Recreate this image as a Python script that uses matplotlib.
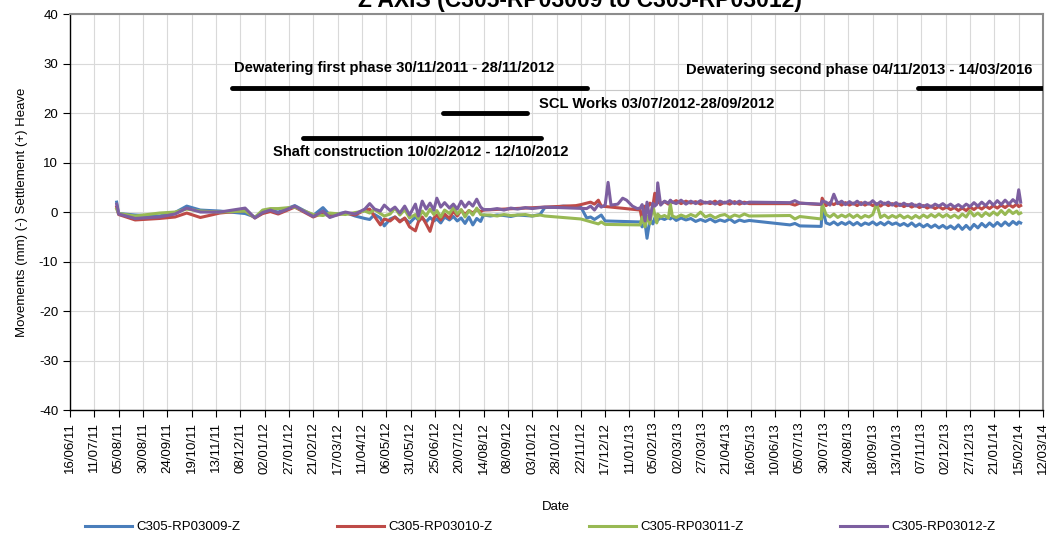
import numpy as np
import pandas as pd
import matplotlib
matplotlib.use('Agg')
import matplotlib.pyplot as plt
import matplotlib.dates as mdates

nan = np.nan

# survey dates (shared by the four prisms, nan = no reading)
survey_dates = [
    "2011-08-03", "2011-08-05", "2011-08-22", "2011-09-16", "2011-10-02", "2011-10-14",
    "2011-10-28", "2011-11-17", "2011-12-13", "2011-12-23", "2011-12-31", "2012-01-08",
    "2012-01-16", "2012-02-02", "2012-02-21", "2012-03-02", "2012-03-09", "2012-03-25",
    "2012-04-04", "2012-04-14", "2012-04-19", "2012-04-24", "2012-04-30", "2012-05-04",
    "2012-05-10", "2012-05-15", "2012-05-20", "2012-05-25", "2012-05-30", "2012-06-05",
    "2012-06-08", "2012-06-12", "2012-06-16", "2012-06-20", "2012-06-24", "2012-06-27",
    "2012-07-01", "2012-07-05", "2012-07-10", "2012-07-14", "2012-07-18", "2012-07-22",
    "2012-07-26", "2012-07-30", "2012-08-03", "2012-08-07", "2012-08-11", "2012-08-14",
    "2012-08-21", "2012-08-28", "2012-09-04", "2012-09-11", "2012-09-18", "2012-09-26",
    "2012-10-03", "2012-10-11", "2012-10-16", "2012-10-26", "2012-11-04", "2012-11-12",
    "2012-11-17", "2012-11-22", "2012-11-28", "2012-12-02", "2012-12-06", "2012-12-10",
    "2012-12-13", "2012-12-17", "2012-12-20", "2012-12-23", "2012-12-30", "2013-01-04",
    "2013-01-08", "2013-01-14", "2013-01-19", "2013-01-22", "2013-01-24", "2013-01-27",
    "2013-01-29", "2013-02-01", "2013-02-04", "2013-02-06", "2013-02-08", "2013-02-09",
    "2013-02-12", "2013-02-16", "2013-02-20", "2013-02-22", "2013-02-24", "2013-02-28",
    "2013-03-05", "2013-03-10", "2013-03-15", "2013-03-20", "2013-03-25", "2013-03-30",
    "2013-04-04", "2013-04-09", "2013-04-14", "2013-04-19", "2013-04-24", "2013-04-29",
    "2013-05-04", "2013-05-09", "2013-05-14", "2013-06-25", "2013-06-30", "2013-07-05",
    "2013-07-27", "2013-07-28", "2013-08-01", "2013-08-05", "2013-08-09", "2013-08-13",
    "2013-08-17", "2013-08-21", "2013-08-25", "2013-08-29", "2013-09-02", "2013-09-06",
    "2013-09-10", "2013-09-14", "2013-09-18", "2013-09-22", "2013-09-26", "2013-09-30",
    "2013-10-04", "2013-10-08", "2013-10-12", "2013-10-16", "2013-10-20", "2013-10-24",
    "2013-10-28", "2013-11-01", "2013-11-05", "2013-11-09", "2013-11-13", "2013-11-17",
    "2013-11-21", "2013-11-25", "2013-11-29", "2013-12-03", "2013-12-07", "2013-12-11",
    "2013-12-15", "2013-12-19", "2013-12-23", "2013-12-27", "2013-12-31", "2014-01-04",
    "2014-01-08", "2014-01-12", "2014-01-16", "2014-01-20", "2014-01-24", "2014-01-28",
    "2014-02-01", "2014-02-05", "2014-02-09", "2014-02-13", "2014-02-15", "2014-02-17",
]

rp03009 = [
    2.0, -0.3, -0.6, -0.8, -0.1, 1.2, 0.4, 0.2, -0.3, -1.0, -0.2, 0.3,
    0.0, 1.3, -0.7, 0.9, -0.6, -0.1, -0.8, -1.3, -1.5, -0.5, -1.2, -2.8,
    -1.4, -1.0, -1.8, -1.3, -2.2, -1.0, -1.6, -1.2, -2.0, -1.1, -1.8, -1.4,
    -2.2, -1.0, -1.6, -0.9, -1.8, -1.2, -2.3, -1.0, -2.6, -1.3, -1.9, -0.6,
    -0.8, -0.6, -0.7, -0.9, -0.6, -0.7, -0.8, -0.5, 0.9, 1.0, 1.2, 1.1,
    1.1, 1.0, -1.2, -1.0, -1.5, -1.0, -0.6, -1.8, nan, nan, nan, nan,
    nan, nan, nan, -2.0, -3.0, -2.2, -5.3, -1.5, -2.4, -1.2, -2.0, -1.6,
    -1.2, -1.5, -1.1, -1.4, -1.0, -1.7, -1.2, -1.6, -1.3, -1.9, -1.5, -1.9,
    -1.4, -2.0, -1.6, -1.9, -1.4, -2.1, -1.6, -1.9, -1.7, -2.6, -2.3, -2.8,
    -2.9, 0.9, -2.2, -2.5, -2.0, -2.6, -2.1, -2.5, -2.0, -2.6, -2.1, -2.7,
    -2.2, -2.5, -2.0, -2.6, -2.1, -2.6, -2.0, -2.5, -2.2, -2.7, -2.3, -2.8,
    -2.2, -2.9, -2.4, -3.0, -2.5, -3.1, -2.6, -3.2, -2.7, -3.3, -2.8, -3.4,
    -2.6, -3.5, -2.7, -3.5, -2.5, -3.2, -2.3, -3.0, -2.2, -2.9, -2.1, -2.8,
    -2.0, -2.7, -1.9, -2.5, -2.0, -2.2,
]

rp03010 = [
    1.0, -0.5, -1.6, -1.3, -1.0, -0.2, -1.1, -0.2, 0.3, -1.2, -0.3, 0.1,
    -0.4, 1.0, -1.0, -0.2, -0.9, -0.2, -0.6, 0.4, 0.6, -0.9, -2.6, -1.4,
    -1.8, -1.0, -2.0, -1.2, -3.0, -3.8, -2.0, -1.0, -2.4, -3.9, -1.2, -0.6,
    -1.6, -0.4, -1.3, 0.2, -0.8, 0.4, -0.5, 0.3, -0.2, 0.5, 0.1, 0.4,
    nan, nan, nan, nan, nan, nan, nan, nan, nan, nan, nan, nan,
    1.3, 1.5, 1.8, 2.0, 1.6, 2.4, 1.2, nan, nan, nan, nan, nan,
    nan, nan, nan, 0.4, -1.6, 1.2, 0.8, 1.8, 1.2, 3.8, 1.6, 2.2,
    1.7, 2.1, 1.6, 2.3, 1.9, 2.3, 1.7, 2.2, 1.8, 2.1, 1.6, 2.0,
    1.7, 2.2, 1.5, 2.0, 1.6, 2.1, 1.6, 2.0, 1.7, 1.7, 1.4, 1.8,
    1.5, 2.8, 1.3, 1.9, 1.5, 2.0, 1.4, 1.9, 1.4, 1.8, 1.3, 1.9,
    1.4, 1.8, 1.3, 1.7, 1.2, 1.8, 1.3, 1.7, 1.2, 1.6, 1.1, 1.5,
    1.0, 1.4, 0.9, 1.3, 0.8, 1.2, 0.7, 1.1, 0.6, 1.0, 0.5, 0.9,
    0.3, 0.8, 0.3, 1.0, 0.5, 1.1, 0.6, 1.2, 0.7, 1.3, 0.8, 1.4,
    0.9, 1.5, 1.0, 1.6, 1.1, 1.3,
]

rp03011 = [
    0.6, -0.3, -0.8, -0.2, 0.0, 0.6, 0.2, 0.0, 0.2, -1.1, 0.4, 0.7,
    0.7, 1.0, -0.5, -0.7, -0.2, -0.5, -0.1, 0.2, -0.2, 0.5, -0.3, -0.8,
    -0.4, 0.8, -0.6, 0.5, -1.2, -0.5, -1.4, 0.2, -0.8, 0.6, -0.5, 0.3,
    -1.0, 0.4, -0.3, 0.9, -0.4, 0.5, -1.0, 0.3, -0.6, 0.8, -0.5, -0.6,
    -0.6, -0.8, -0.5, -0.7, -0.6, -0.5, -0.8, -0.6, -0.8, nan, nan, nan,
    nan, -1.4, nan, nan, nan, -2.4, -2.0, -2.5, nan, nan, nan, nan,
    nan, nan, nan, -2.6, -1.0, -3.0, -0.8, -2.4, 1.4, -0.6, -2.2, -0.4,
    -1.0, -0.7, -1.2, 1.6, -0.8, -1.1, -0.6, -1.0, -0.5, -0.9, 0.0, -1.0,
    -0.6, -1.2, -0.7, -0.5, -1.1, -0.6, -0.9, -0.4, -0.8, -0.7, -1.4, -0.9,
    -1.4, 1.6, -0.5, -1.0, -0.4, -1.1, -0.6, -1.0, -0.5, -1.1, -0.6, -1.2,
    -0.7, -1.0, -0.5, 1.7, -1.1, -0.6, -1.2, -0.7, -1.1, -0.6, -1.2, -0.8,
    -1.3, -0.7, -1.2, -0.6, -1.1, -0.5, -1.0, -0.4, -1.0, -0.5, -1.1, -0.6,
    -1.2, -0.4, -1.0, 0.2, -0.8, -0.2, -0.9, -0.1, -0.7, 0.0, -0.6, 0.3,
    -0.5, 0.4, -0.3, 0.2, -0.4, -0.2,
]

rp03012 = [
    1.6, -0.4, -1.3, -1.0, -0.4, 0.8, 0.0, 0.0, 0.8, -1.2, -0.1, 0.4,
    -0.2, 1.2, -0.9, 0.2, -1.1, 0.0, -0.4, 0.6, 1.7, 0.6, 0.2, 1.4,
    0.3, 1.0, -0.2, 1.2, -0.6, 1.6, -0.8, 2.2, 0.6, 1.8, 0.4, 2.8,
    1.0, 1.9, 0.8, 1.6, 0.6, 2.2, 1.0, 2.0, 1.2, 2.6, 1.0, 0.5,
    0.5, 0.7, 0.4, 0.8, 0.6, 0.9, 0.7, 0.9, 1.0, nan, nan, nan,
    nan, nan, 0.7, 1.2, 0.4, 1.5, 1.0, 1.4, 6.0, 1.4, 1.6, 2.8,
    2.4, 1.2, 0.7, 0.8, 1.5, -1.8, 2.0, -1.5, 1.8, 1.2, 1.6, 5.9,
    1.4, 2.2, 1.8, 2.4, 2.0, 1.7, 2.4, 1.6, 2.2, 1.7, 2.3, 1.8,
    2.1, 1.6, 2.2, 1.8, 2.3, 1.7, 2.2, 1.7, 2.0, 1.9, 2.3, 1.8,
    1.6, 2.2, 2.0, 1.4, 3.6, 1.7, 2.2, 1.5, 2.1, 1.6, 2.2, 1.5,
    2.0, 1.6, 2.3, 1.5, 2.1, 1.6, 2.0, 1.4, 1.9, 1.3, 1.8, 1.3,
    1.7, 1.2, 1.6, 1.1, 1.5, 1.0, 1.6, 1.2, 1.7, 1.1, 1.6, 1.0,
    1.5, 0.9, 1.6, 1.1, 1.9, 1.2, 2.0, 1.3, 2.2, 1.4, 2.3, 1.5,
    2.4, 1.6, 2.5, 1.8, 4.5, 2.0,
]

series_names = ["C305-RP03009-Z", "C305-RP03010-Z", "C305-RP03011-Z", "C305-RP03012-Z"]
series_colors = ["#4A7EBB", "#BE4B48", "#98B954", "#7D5FA0"]

# construction phases drawn as bars above the data
phase_labels = [
    "Dewatering first phase 30/11/2011 - 28/11/2012",
    "Dewatering second phase 04/11/2013 - 14/03/2016",
    "SCL Works 03/07/2012-28/09/2012",
    "Shaft construction 10/02/2012 - 12/10/2012",
]
phase_start = ["2011-11-30", "2013-11-04", "2012-07-03", "2012-02-10"]
phase_end = ["2012-11-28", "2016-03-14", "2012-09-28", "2012-10-12"]
phase_level = [25, 25, 20, 15]

df = pd.DataFrame({
    "date": pd.to_datetime(survey_dates),
    series_names[0]: rp03009,
    series_names[1]: rp03010,
    series_names[2]: rp03011,
    series_names[3]: rp03012,
})

plt.rcParams['font.family'] = ['Liberation Sans', 'DejaVu Sans']
plt.rcParams['axes.unicode_minus'] = False

fig = plt.figure(figsize=(10.57, 5.41), dpi=100)
ax = fig.add_axes([0.0662, 0.2421, 0.9206, 0.7319])

for name, col in zip(series_names, series_colors):
    s = df[["date", name]].dropna()
    ax.plot(s["date"], s[name], color=col, lw=2.2, label=name, zorder=3)

# phase bars
ps = pd.to_datetime(phase_start)
pe = pd.to_datetime(phase_end)
ax.plot([pe[0], ps[1]], [24.6, 24.6], color="#C8C8C8", lw=0.8, zorder=2)
for i in range(len(phase_labels)):
    ax.plot([ps[i], pe[i]], [phase_level[i], phase_level[i]], color="black",
            lw=3.5, solid_capstyle="round", zorder=4)

bold = dict(fontsize=10.6, fontweight="bold", va="center")
ax.text(ps[0] + pd.Timedelta(days=2), phase_level[0] + 4.2, phase_labels[0], ha="left", **bold)
ax.text(ps[1] + pd.Timedelta(days=117), phase_level[1] + 3.8, phase_labels[1], ha="right", **bold)
ax.text(pe[2] + pd.Timedelta(days=12), phase_level[2] + 1.8, phase_labels[2], ha="left", **bold)
ax.text(ps[3] + pd.Timedelta(days=-30), phase_level[3] - 2.9, phase_labels[3], ha="left", **bold)

# axes
x0 = pd.Timestamp("2011-06-16")
x1 = pd.Timestamp("2014-03-12")
ax.set_xlim(x0, x1)
ax.set_ylim(-40, 40)
ax.set_yticks(np.arange(-40, 41, 10))
ax.set_xticks(pd.date_range(x0, x1, freq="25D"))
ax.xaxis.set_major_formatter(mdates.DateFormatter("%d/%m/%y"))
ax.tick_params(axis="x", labelrotation=90, labelsize=9.5, length=5, color="black")
ax.tick_params(axis="y", labelsize=9.5, length=5, color="black")
ax.grid(True, color="#D9D9D9", lw=0.8, zorder=0)
ax.set_axisbelow(True)

for side in ["left", "bottom"]:
    ax.spines[side].set_color("black")
    ax.spines[side].set_linewidth(1.0)
for side in ["top", "right"]:
    ax.spines[side].set_color("#8C8C8C")
    ax.spines[side].set_linewidth(1.5)

ax.set_ylabel("Movements (mm) (-) Settlement (+) Heave", fontsize=9.5, labelpad=8)
fig.text(556 / 1057, 1 - 507 / 541, "Date", ha="center", va="center", fontsize=9.5)

fig.text(580 / 1057, 1 - 7 / 541, "Z AXIS (C305-RP03009 to C305-RP03012)",
         ha="center", va="baseline", fontsize=16.5, fontweight="bold")

fig.legend(loc="center", bbox_to_anchor=(540 / 1057, 1 - 527 / 541), ncol=4, frameon=False,
           fontsize=9.5, handlelength=3.6, columnspacing=7.3, handletextpad=0.3)

fig.savefig("out.png", dpi=100)
